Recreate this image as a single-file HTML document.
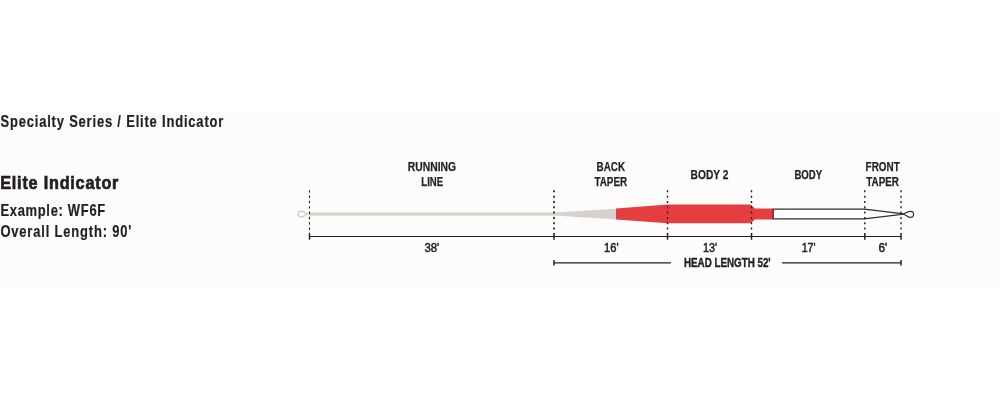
<!DOCTYPE html>
<html>
<head>
<meta charset="utf-8">
<title>Elite Indicator</title>
<style>
html,body{margin:0;padding:0;background:#ffffff;}
body{width:1000px;height:400px;overflow:hidden;font-family:"Liberation Sans",sans-serif;}
svg{display:block;will-change:transform;}
text{font-family:"Liberation Sans",sans-serif;fill:#231f20;}
.b{font-weight:bold;}
</style>
</head>
<body>
<svg width="1000" height="400" viewBox="0 0 1000 400">
  <rect x="0" y="0" width="1000" height="400" fill="#ffffff"/>
  <rect x="0" y="112" width="1000" height="176" fill="#fdfcfa"/>

  <!-- left text -->
  <text class="b" font-size="16.2" stroke="#231f20" stroke-width="0.2" transform="translate(0.5 126.7) scale(0.8 1)" textLength="278.5" lengthAdjust="spacing">Specialty Series / Elite Indicator</text>
  <text class="b" font-size="18" stroke="#231f20" stroke-width="0.7" transform="translate(0.2 189) scale(0.9 1)" textLength="131.33" lengthAdjust="spacing">Elite Indicator</text>
  <text class="b" font-size="16.2" stroke="#231f20" stroke-width="0.2" transform="translate(0.4 216.3) scale(0.8 1)" textLength="131.0" lengthAdjust="spacing">Example: WF6F</text>
  <text class="b" font-size="16.2" stroke="#231f20" stroke-width="0.2" transform="translate(0.4 236.6) scale(0.8 1)" textLength="163.75" lengthAdjust="spacing">Overall Length: 90'</text>
  <!-- section labels -->
  <text class="b" font-size="12.6" stroke="#231f20" stroke-width="0.25" x="407.8" y="171.1" textLength="48.2" lengthAdjust="spacingAndGlyphs">RUNNING</text>
  <text class="b" font-size="12.6" stroke="#231f20" stroke-width="0.25" x="421.3" y="185.7" textLength="21.8" lengthAdjust="spacingAndGlyphs">LINE</text>
  <text class="b" font-size="12.6" stroke="#231f20" stroke-width="0.25" x="596.6" y="171.1" textLength="28.4" lengthAdjust="spacingAndGlyphs">BACK</text>
  <text class="b" font-size="12.6" stroke="#231f20" stroke-width="0.25" x="594.4" y="185.7" textLength="32.8" lengthAdjust="spacingAndGlyphs">TAPER</text>
  <text class="b" font-size="12.6" stroke="#231f20" stroke-width="0.25" x="690.6" y="178.8" textLength="37.8" lengthAdjust="spacingAndGlyphs">BODY 2</text>
  <text class="b" font-size="12.6" stroke="#231f20" stroke-width="0.25" x="794.4" y="178.8" textLength="27.8" lengthAdjust="spacingAndGlyphs">BODY</text>
  <text class="b" font-size="12.6" stroke="#231f20" stroke-width="0.25" x="865.6" y="171.1" textLength="34.1" lengthAdjust="spacingAndGlyphs">FRONT</text>
  <text class="b" font-size="12.6" stroke="#231f20" stroke-width="0.25" x="866.2" y="185.7" textLength="32.8" lengthAdjust="spacingAndGlyphs">TAPER</text>

  <!-- running line -->
  <rect x="309" y="212.5" width="245.5" height="3.1" fill="#d5d2cc"/>
  <path d="M307 214.1 C304.8 212.4 303.6 211.2 301.3 211.2 C299.4 211.2 298.2 212.5 298.2 214.1 C298.2 215.7 299.4 217 301.3 217 C303.6 217 304.8 215.8 307 214.1 L309.5 214.1" fill="#ffffff" stroke="#cfccc7" stroke-width="1.4"/>
  <!-- back taper grey -->
  <polygon points="554,212.5 616,208.8 616,219.4 554,215.6" fill="#d5d2cf"/>
  <!-- red -->
  <polygon points="616,208.6 667.5,204.6 750.5,204.6 755,208.5 773,208.5 773,219.5 755,219.5 750.5,223.3 667.5,223.3 616,219.5" fill="#e63e40"/>
  <!-- body white -->
  <path d="M773.2 209.1 L864.8 209.1 L903.5 213.8 L903.5 214.2 L864.8 218.9 L773.2 218.9 Z" fill="#ffffff" stroke="none"/>
  <path d="M864.8 209.1 L773.2 209.1 L773.2 218.9 L864.8 218.9" fill="none" stroke="#322e2b" stroke-width="1.3" stroke-linejoin="miter"/>
  <path d="M864.3 209.1 L903.8 213.9 M864.3 218.9 L903.8 214.1" fill="none" stroke="#322e2b" stroke-width="1.2"/>
  <path d="M903.5 214 C906 212.7 908 211.3 910.4 211.3 C912.3 211.3 913.6 212.6 913.6 214.3 C913.6 216 912.3 217.4 910.4 217.4 C908 217.4 906 215.4 903.5 214 Z" fill="#ffffff" stroke="#322e2b" stroke-width="1.2"/>

  <!-- dotted verticals -->
  <g stroke="#231f20" stroke-width="1.4" stroke-dasharray="2 3.33" fill="none">
    <line x1="309.5" y1="190.2" x2="309.5" y2="234" stroke-width="1.1" stroke-dasharray="2.4 2.93"/>
    <line x1="554" y1="190.3" x2="554" y2="234" stroke-width="1.7"/>
    <line x1="667.5" y1="190.3" x2="667.5" y2="234"/>
    <line x1="751.5" y1="190.3" x2="751.5" y2="234"/>
    <line x1="864.8" y1="190.3" x2="864.8" y2="234"/>
    <line x1="901" y1="190.3" x2="901" y2="234"/>
  </g>

  <!-- dimension line -->
  <g stroke="#231f20" fill="none">
    <line x1="309.5" y1="236.45" x2="901" y2="236.45" stroke-width="1.15"/>
    <g stroke-width="1.5">
      <line x1="309.5" y1="233.7" x2="309.5" y2="239.7"/>
      <line x1="554" y1="233.7" x2="554" y2="239.7"/>
      <line x1="667.5" y1="233.7" x2="667.5" y2="239.7"/>
      <line x1="751.5" y1="233.7" x2="751.5" y2="239.7"/>
      <line x1="864.8" y1="233.7" x2="864.8" y2="239.7"/>
      <line x1="901" y1="233.7" x2="901" y2="239.7"/>
      <line x1="554" y1="260" x2="554" y2="265.6"/>
      <line x1="901" y1="260" x2="901" y2="265.6"/>
    </g>
    <line x1="554" y1="262.8" x2="671" y2="262.8" stroke-width="1.2"/>
    <line x1="782" y1="262.8" x2="901" y2="262.8" stroke-width="1.2"/>
  </g>

  <!-- dimension numbers -->
  <text font-size="12.4" stroke="#231f20" stroke-width="0.5" x="424.4" y="251.9" textLength="14.8" lengthAdjust="spacingAndGlyphs">38'</text>
  <text font-size="12.4" stroke="#231f20" stroke-width="0.5" x="604" y="251.9" textLength="14.6" lengthAdjust="spacingAndGlyphs">16'</text>
  <text font-size="12.4" stroke="#231f20" stroke-width="0.5" x="703" y="251.9" textLength="14.0" lengthAdjust="spacingAndGlyphs">13'</text>
  <text font-size="12.4" stroke="#231f20" stroke-width="0.5" x="801.7" y="251.9" textLength="13.8" lengthAdjust="spacingAndGlyphs">17'</text>
  <text font-size="12.4" stroke="#231f20" stroke-width="0.5" x="878.4" y="251.9" textLength="8.9" lengthAdjust="spacingAndGlyphs">6'</text>
  <text class="b" font-size="12.7" stroke="#231f20" stroke-width="0.4" x="684" y="266.8" textLength="86.7" lengthAdjust="spacingAndGlyphs">HEAD LENGTH 52'</text>
</svg>
</body>
</html>
